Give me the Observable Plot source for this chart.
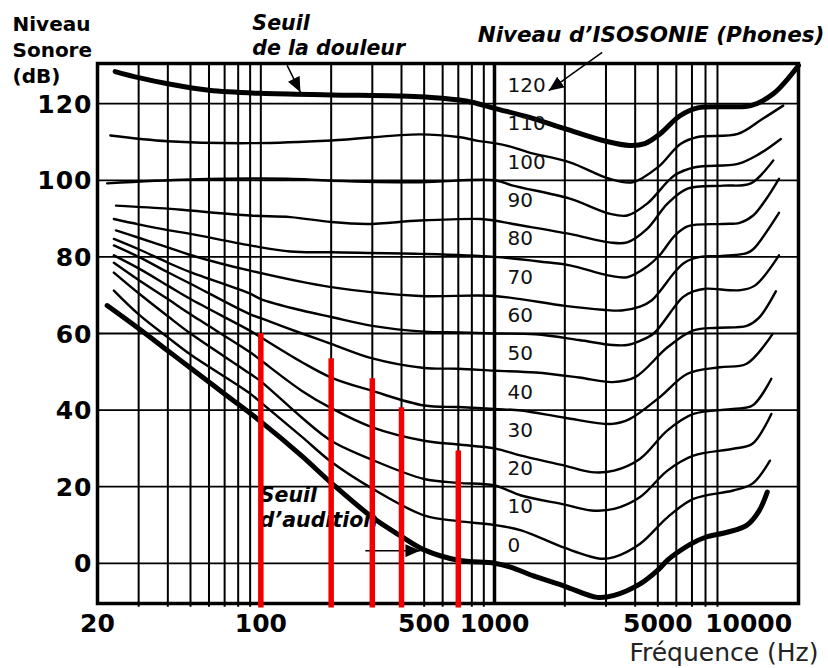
<!DOCTYPE html>
<html><head><meta charset="utf-8">
<script src="https://cdn.jsdelivr.net/npm/d3@7"></script>
<script src="https://cdn.jsdelivr.net/npm/@observablehq/plot@0.6"></script>
<style>
html,body{margin:0;padding:0;background:#fff;}
#chart svg{display:block;}
.ylab text{letter-spacing:1px;}
</style></head><body><div id="chart"></div>
<script>
// ---- data: [frequency Hz, level dB] ----
const phon0   = [[22,67.3],[30,61.3],[40,55.5],[50,51],[70,44.2],[100,37],[150,28],[200,21],[300,12],[400,7],[500,3.5],[700,0.8],[1000,0],[1170,-1],[1500,-3.5],[2000,-6],[2750,-8.9],[3250,-8.4],[4200,-5.4],[5000,-1.8],[5500,0.8],[6000,2.6],[7000,5.2],[8000,6.8],[9900,8.1],[12000,9.9],[13500,13.5],[14700,18.6]];
const phon10  = [[23.5,71.2],[30,65],[40,59],[50,54.5],[90,44.3],[100,42],[150,33],[200,26.5],[300,19.5],[500,12.5],[700,11],[1000,10],[1300,8.6],[2000,4],[2850,1.2],[3250,1.6],[4200,5.1],[5500,12],[7100,16.8],[10500,19],[12700,20.8],[15100,26.8]];
const phon20  = [[23.5,75.9],[30,70.5],[40,64.5],[50,60],[90,49.5],[100,47.5],[150,38],[200,32],[300,27],[500,22],[700,21],[1000,20.3],[1300,17.7],[2000,15.3],[2600,13.8],[3250,14.2],[4200,17.3],[5500,24.2],[7100,28.1],[10500,29.9],[12700,31.2],[15300,39]];
const phon30  = [[23.5,78.5],[30,74],[40,69],[50,65],[90,55.1],[100,53],[150,45],[200,40.5],[300,35.5],[500,32],[700,31],[1000,30],[1300,28.1],[2000,25.5],[2600,23.8],[3250,24.2],[4200,27.3],[5500,34.7],[7100,39],[10500,40.3],[12700,41.2],[15300,48.2]];
const phon40  = [[23.5,80.4],[30,77],[40,72.5],[50,69],[90,60.7],[100,59],[150,52.5],[200,48.5],[300,45],[500,41.2],[700,40.8],[1000,40.3],[1300,39.9],[2000,38],[3200,36.4],[3800,37.7],[5100,43.4],[6700,49.5],[9200,51.2],[12000,52.1],[15500,59.9]];
const phon50  = [[23.5,83],[30,80],[40,76],[50,73],[90,65],[100,64],[150,60],[200,57.3],[300,53.5],[500,51],[700,50.8],[1000,50.3],[1500,49.8],[2300,48.5],[3200,47.3],[4000,48.6],[5500,56.4],[7100,60.8],[9000,61.5],[12000,62],[13500,64],[16000,71]];
const phon60  = [[23.5,84.7],[30,82],[40,78.5],[50,76],[90,70.4],[100,69],[150,66],[200,64.3],[300,62],[500,60.5],[700,60.3],[1000,60],[1500,59.8],[2300,58.3],[3200,57],[3700,57],[4200,58.1],[4800,60],[5900,67],[6400,69.5],[7100,71],[8000,71.7],[11200,71.3],[13000,72.5],[16500,80.4]];
const phon70  = [[24,86.9],[30,85],[40,82.5],[50,80.5],[90,76.4],[200,72.1],[480,69.8],[1000,69.8],[2000,67.2],[2900,66.2],[3500,66],[4200,67],[4700,68.6],[5100,71],[5900,76],[6500,78.5],[7600,80],[9200,80.2],[12000,81],[12800,82],[16500,91.5]];
const phon80  = [[23.5,89.9],[30,88.5],[40,87],[50,86],[90,83],[134,81.4],[200,81.2],[480,80.8],[1000,80],[1660,78.6],[2100,77.8],[3100,75.1],[3700,74.7],[4500,77.5],[5100,80.5],[5900,85.5],[6700,88],[9500,88.6],[11200,88.9],[12800,90.8],[14500,95],[16500,100.4]];
const phon90  = [[24,93.4],[40,92.6],[50,92.1],[90,90.8],[134,90.4],[200,89.1],[285,88.6],[480,89.5],[870,89.9],[1000,89.5],[1200,88.6],[2100,86],[3100,83.8],[3700,83.8],[4500,87.3],[5500,93.9],[6700,97.8],[9500,98.6],[12500,99.2],[15600,105.2]];
const phon100 = [[22,99.2],[50,100.2],[130,100.4],[200,99.9],[480,99.5],[1000,100],[1200,98.6],[2100,95.2],[3100,91.3],[3700,90.8],[4500,93.9],[5900,101.3],[7200,103.4],[11000,104.3],[13600,106.9],[16800,110.8]];
const phon110 = [[22.7,111.7],[40,110.2],[90,109.7],[200,110.4],[480,112],[700,111.3],[850,110.3],[1000,109.7],[1200,108.6],[1400,107.3],[2100,104.7],[3100,100.4],[3900,99.5],[5000,103.4],[6250,109.5],[7400,111.3],[11000,112.1],[14000,116],[17200,119.5]];
const phon120 = [[23.8,128.4],[30,126.8],[40,125.2],[60,123.5],[100,122.7],[200,122.3],[400,122],[600,121.4],[800,120.4],[1000,118.8],[1400,116.5],[2000,113.5],[3000,110.2],[3800,109.1],[4400,109.6],[5100,112.1],[6200,116.8],[7400,118.9],[10000,119.2],[12500,119.5],[15600,122.6],[20000,130]];

const phonLevels = [0,10,20,30,40,50,60,70,80,90,100,110,120];
const phonCurves = [phon0,phon10,phon20,phon30,phon40,phon50,phon60,phon70,phon80,phon90,phon100,phon110,phon120];
const thickLevels = [0,120];

const redFreq = [100,200,300,400,700];
const redTop  = [60,53.4,48.2,40.6,29.3];

const xGrid = [30,40,50,60,70,80,90,100,200,300,400,500,600,700,800,900,2000,3000,4000,5000,6000,7000,8000,9000];
const xMajor = [1000];
const yGrid = [0,20,40,60,80,100,120];
const xTickLabels = [20,100,500,1000,5000];
const xTickLabelsEnd = [10000];
const yTickLabels = [0,20,40,60,80,100,120];

// annotations (text anchor / arrow ends, in Hz and dB)
const notesStart = [
  {text:"Seuil\nde la douleur", f:92, db:132.7},
  {text:"Seuil\nd\u2019audition", f:99, db:9.6}
];
const notesEnd = [
  {text:"Niveau d\u2019ISOSONIE (Phones)", f:25800, db:136.1}
];
const arrows = [
  {f1:129.6, db1:130, f2:147.8, db2:123},
  {f1:2890, db1:133.4, f2:1707, db2:123.4},
  {f1:280, db1:3.3, f2:482, db2:3.3}
];

const xDomain = [20,20000];
const yDomain = [-10.5,130.5];

// ---- build tables ----
const lines = phonCurves.flatMap((c,i)=>c.map(([f,db])=>({phon:phonLevels[i], f, db})));
const thin = lines.filter(d=>!thickLevels.includes(d.phon));
const thick = lines.filter(d=>thickLevels.includes(d.phon));
const bars = redFreq.map((f,i)=>({f, top:redTop[i]}));
const phonLabels = phonLevels.map(p=>({p}));

const FONT = "DejaVu Sans, Verdana, sans-serif";
const noteStyle = {fontWeight: "bold", fontStyle: "italic", lineHeight: 1.2, fill: "#000", lineAnchor: "bottom"};

const chart = Plot.plot({
  width: 828, height: 668,
  marginLeft: 97, marginRight: 30, marginTop: 63, marginBottom: 65,
  style: {fontFamily: FONT, background: "#fff", overflow: "visible"},
  x: {type: "log", domain: xDomain, axis: null},
  y: {domain: yDomain, axis: null},
  marks: [
    Plot.ruleX(xGrid, {x: d=>d, y1: yDomain[0]-1, y2: yDomain[1], stroke: "#000", strokeWidth: 2}),
    Plot.ruleX(xMajor, {x: d=>d, y1: yDomain[0], y2: yDomain[1], stroke: "#000", strokeWidth: 3.5}),
    Plot.ruleY(yGrid, {y: d=>d, stroke: "#000", strokeWidth: 1.8}),
    Plot.line(thin, {x: "f", y: "db", z: "phon", stroke: "#000", strokeWidth: 2.4, curve: "catmull-rom"}),
    Plot.line(thick, {x: "f", y: "db", z: "phon", stroke: "#000", strokeWidth: 5, curve: "catmull-rom"}),
    Plot.frame({stroke: "#000", strokeWidth: 3.5}),
    // phon labels next to the 1000 Hz line
    Plot.text(phonLabels, {x: ()=>1000, y: "p", text: d=>String(d.p), dx: 13, dy: -18, textAnchor: "start", lineAnchor: "middle", fontSize: 20, fill: "#111"}),
    // annotations
    Plot.text(notesStart, {x: "f", y: "db", text: "text", textAnchor: "start", fontSize: 20.5, ...noteStyle}),
    Plot.text(notesEnd, {x: "f", y: "db", text: "text", textAnchor: "end", fontSize: 21.5, ...noteStyle}),
    Plot.link(arrows, {x1: "f1", y1: "db1", x2: "f2", y2: "db2", stroke: "#000", strokeWidth: 1.5, className: "annot-arrow"}),
    // red bars
    Plot.ruleX(bars, {x: "f", y1: yDomain[0]-1.2, y2: "top", stroke: "#f20000", strokeWidth: 5.5}),
    // axis labels
    Plot.text(yTickLabels, {y: d=>d, frameAnchor: "left", dx: -5, dy: 1, text: d=>String(d), textAnchor: "end", lineAnchor: "middle", fontSize: 25, fontWeight: "bold", fill: "#000", className: "ylab"}),
    Plot.text(xTickLabels, {x: d=>d, frameAnchor: "bottom", dy: 28, text: d=>String(d), textAnchor: "middle", lineAnchor: "bottom", fontSize: 25, fontWeight: "bold", fill: "#000"}),
    Plot.text(xTickLabelsEnd, {x: d=>d, frameAnchor: "bottom", dx: -23, dy: 28, text: d=>String(d), textAnchor: "start", lineAnchor: "bottom", fontSize: 25, fontWeight: "bold", fill: "#000"}),
    Plot.text(["Niveau\nSonore\n(dB)"], {frameAnchor: "top-left", dx: -85, dy: 19, textAnchor: "start", lineAnchor: "bottom", lineHeight: 1.3, fontSize: 20, fontWeight: "bold", fill: "#000"}),
    Plot.text(["Fréquence (Hz)"], {frameAnchor: "bottom-right", dx: 20, dy: 57, textAnchor: "end", lineAnchor: "bottom", fontSize: 25, fill: "#222"})
  ]
});

// filled arrowheads for the annotation arrows
const svg = d3.select(chart);
const defs = svg.insert("defs", ":first-child");
defs.append("marker").attr("id","ahead").attr("viewBox","-15 -6.5 15 13")
  .attr("markerWidth",15).attr("markerHeight",13).attr("markerUnits","userSpaceOnUse")
  .attr("refX",0).attr("refY",0).attr("orient","auto")
  .append("path").attr("d","M-15,-6.5L0,0L-15,6.5Z").attr("fill","#000");
svg.selectAll("g.annot-arrow path, g.annot-arrow line").attr("marker-end","url(#ahead)");

document.getElementById("chart").appendChild(chart);
</script></body></html>
